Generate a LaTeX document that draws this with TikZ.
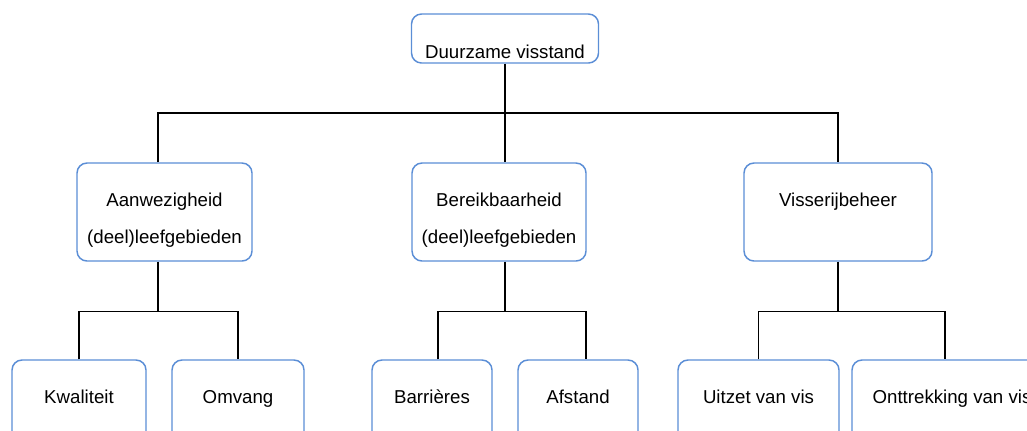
\documentclass[tikz,border=0pt]{standalone}
\usepackage{fontspec}
\setmainfont{Liberation Sans}
\usepackage{tikz}
\usetikzlibrary{positioning}
\definecolor{boxblue}{RGB}{91,142,214}
\tikzset{
  box/.style={draw=boxblue, line width=1.1pt, rounded corners=7.5pt, inner xsep=0pt, inner ysep=0pt, align=center},
  topbox/.style={box, minimum width=140.25pt, text height=33pt, text depth=3.75pt},
  midbox/.style={box, text height=60pt, text depth=13.5pt},
  lowbox/.style={box, text height=32.25pt, text depth=41.25pt},
  link/.style={draw=black, line width=1pt}
}

\begin{document}
\begin{tikzpicture}[x=0.75pt, y=-0.75pt, font=\fontsize{14}{17}\selectfont]
  \path[use as bounding box, clip] (0,0) rectangle (1027,430);

  % top
  \node [topbox] (top) at (505,38.5) {Duurzame visstand};

  % middle row
  \node [midbox, minimum width=131.25pt] (aanw) at (164.5,212) {Aanwezigheid\\[10.75pt](deel)leefgebieden};
  \node [midbox, minimum width=130.5pt] (bereik) at (499,212) {Bereikbaarheid\\[10.75pt](deel)leefgebieden};
  \node [midbox, minimum width=141pt] (visser) at (838,212) {Visserijbeheer\\[10.75pt]\strut};

  % bottom row
  \node [lowbox, minimum width=100.5pt] (kwal) at (79,409) {Kwaliteit};
  \node [lowbox, minimum width=99pt] (omvang) at (238,409) {Omvang};
  \node [lowbox, minimum width=90pt] (barr) at (432,409) {Barrières};
  \node [lowbox, minimum width=90pt] (afst) at (578,409) {Afstand};
  \node [lowbox, minimum width=120.75pt] (uitzet) at (758.5,409) {Uitzet van vis};
  \node [lowbox, minimum width=150pt] (onttr) at (952,409) {Onttrekking van vis};

  % links
  \coordinate (bus) at (0,113);
  \draw [link] (top.south) -- (bereik.north -| top.south);
  \draw [link] ([xshift=-4.9pt]aanw.north) |- (bus -| top.south) -| (visser.north);

  \draw [link] ([xshift=-4.9pt]aanw.south) -- ++(0,50) coordinate (jl);
  \draw [link] (kwal.north) |- (jl) -| (omvang.north);

  \draw [link] (bereik.south -| top.south) -- ++(0,50) coordinate (jm);
  \draw [link] ([xshift=4.5pt]barr.north) |- (jm) -| ([xshift=6pt]afst.north);

  \draw [link] (visser.south) -- ++(0,50) coordinate (jr);
  \draw [link] (uitzet.north) |- (jr) -| ([xshift=-5.25pt]onttr.north);
\end{tikzpicture}
\end{document}
